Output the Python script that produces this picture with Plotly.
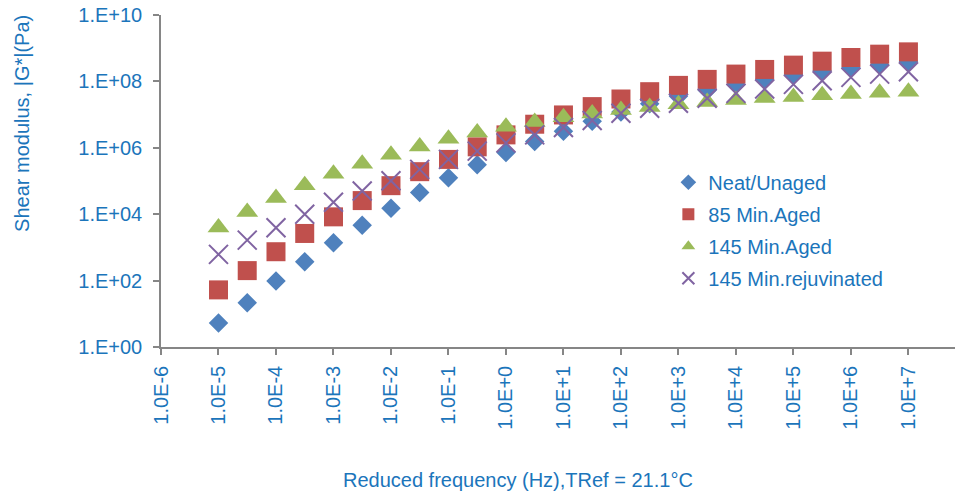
import plotly.graph_objects as go

# Reduced frequency (Hz), half-decade steps
freq = [1e-5, 3.16e-5, 1e-4, 3.16e-4, 1e-3, 3.16e-3, 1e-2, 3.16e-2, 1e-1, 3.16e-1,
        1e0, 3.16e0, 1e1, 3.16e1, 1e2, 3.16e2, 1e3, 3.16e3, 1e4, 3.16e4,
        1e5, 3.16e5, 1e6, 3.16e6, 1e7]

neat_unaged = [5.25, 21.4, 97.7, 372, 1380, 4680, 1.51e4, 4.47e4, 1.26e5, 3.09e5,
               7.24e5, 1.55e6, 3.16e6, 6.31e6, 1.20e7, 2.14e7, 3.55e7, 5.37e7, 8.13e7, 1.17e8,
               1.62e8, 2.09e8, 2.57e8, 3.24e8, 3.98e8]
aged_85 = [52.5, 200, 741, 2630, 8320, 2.57e4, 7.24e4, 1.91e5, 4.47e5, 1.07e6,
           2.45e6, 5.13e6, 9.77e6, 1.74e7, 2.95e7, 4.90e7, 7.59e7, 1.15e8, 1.66e8, 2.29e8,
           3.09e8, 4.07e8, 5.25e8, 6.61e8, 7.76e8]
aged_145 = [3980, 1.17e4, 3.09e4, 7.41e4, 1.66e5, 3.31e5, 6.17e5, 1.10e6, 1.86e6, 2.88e6,
            4.27e6, 6.03e6, 8.32e6, 1.07e7, 1.38e7, 1.70e7, 2.04e7, 2.40e7, 2.75e7, 3.16e7,
            3.39e7, 3.80e7, 4.17e7, 4.57e7, 4.90e7]
rejuv_145 = [617, 1660, 3890, 1.00e4, 2.29e4, 5.01e4, 1.02e5, 2.24e5, 4.47e5, 7.94e5,
             1.41e6, 2.45e6, 4.07e6, 6.61e6, 1.10e7, 1.55e7, 2.19e7, 3.09e7, 4.37e7, 5.89e7,
             8.13e7, 1.05e8, 1.32e8, 1.66e8, 1.95e8]

series_names = ["Neat/Unaged", "85 Min.Aged", "145 Min.Aged", "145 Min.rejuvinated"]

x_tickvals = [1e-6, 1e-5, 1e-4, 1e-3, 1e-2, 1e-1, 1e0, 1e1, 1e2, 1e3, 1e4, 1e5, 1e6, 1e7]
x_ticktext = ["1.0E-6", "1.0E-5", "1.0E-4", "1.0E-3", "1.0E-2", "1.0E-1", "1.0E+0",
              "1.0E+1", "1.0E+2", "1.0E+3", "1.0E+4", "1.0E+5", "1.0E+6", "1.0E+7"]
y_tickvals = [1e0, 1e2, 1e4, 1e6, 1e8, 1e10]
y_ticktext = ["1.E+00", "1.E+02", "1.E+04", "1.E+06", "1.E+08", "1.E+10"]

TXT = "#1b75bb"
FONT = "Liberation Sans, Arial, sans-serif"
AX = "#868686"

fig = go.Figure()
fig.add_trace(go.Scatter(x=freq, y=neat_unaged, mode="markers", name=series_names[0],
                         legendgroup="a",
                         marker=dict(symbol="diamond", size=15, color="#4F81BD")))
fig.add_trace(go.Scatter(x=freq, y=aged_85, mode="markers", name=series_names[1],
                         legendgroup="b",
                         marker=dict(symbol="square", size=19, color="#C0504D")))
fig.add_trace(go.Scatter(x=freq, y=aged_145, mode="markers", name=series_names[2],
                         legendgroup="c",
                         marker=dict(symbol="triangle-up", size=19, color="#9BBB59")))
fig.add_trace(go.Scatter(x=freq, y=rejuv_145, mode="markers", name=series_names[3],
                         legendgroup="d",
                         marker=dict(symbol="x-thin", size=19,
                                     line=dict(color="#8064A2", width=2), color="#8064A2")))

fig.update_layout(
    width=955, height=493,
    margin=dict(l=161, r=0, t=15, b=146),
    paper_bgcolor="white", plot_bgcolor="white",
    font=dict(family=FONT, size=20, color=TXT),
    showlegend=True,
    legend=dict(x=0.639, y=0.555, xanchor="left", yanchor="top",
                bgcolor="rgba(0,0,0,0)", font=dict(size=20, color=TXT),
                itemsizing="constant", tracegroupgap=3, itemwidth=30),
    xaxis=dict(type="log", range=[-6, 7.81], tickvals=x_tickvals, ticktext=x_ticktext,
               tickangle=-90, showgrid=False, zeroline=False, showline=True,
               linecolor=AX, linewidth=1.5, ticks="outside", ticklen=6, tickcolor=AX,
               tickwidth=1.5, ticklabelstandoff=3, tickfont=dict(size=20, color=TXT)),
    yaxis=dict(type="log", range=[0, 10], tickvals=y_tickvals, ticktext=y_ticktext,
               showgrid=False, zeroline=False, showline=True,
               linecolor=AX, linewidth=1.5, ticks="outside", ticklen=6, tickcolor=AX,
               tickwidth=1.5, ticklabelstandoff=7, tickfont=dict(size=20, color=TXT)),
    annotations=[
        dict(text="Shear modulus, |G*|(Pa)", xref="paper", yref="paper",
             x=-0.175, y=0.672, xanchor="center", yanchor="middle", textangle=-90,
             showarrow=False, font=dict(size=20, color=TXT, family=FONT)),
        dict(text="Reduced frequency (Hz),TRef = 21.1°C", xref="paper", yref="paper",
             x=0.4496, y=-0.40, xanchor="center", yanchor="middle",
             showarrow=False, font=dict(size=20, color=TXT, family=FONT)),
    ],
)

fig.write_html("out.html", config={"displayModeBar": False},
               post_script="document.body.style.margin='0';")
